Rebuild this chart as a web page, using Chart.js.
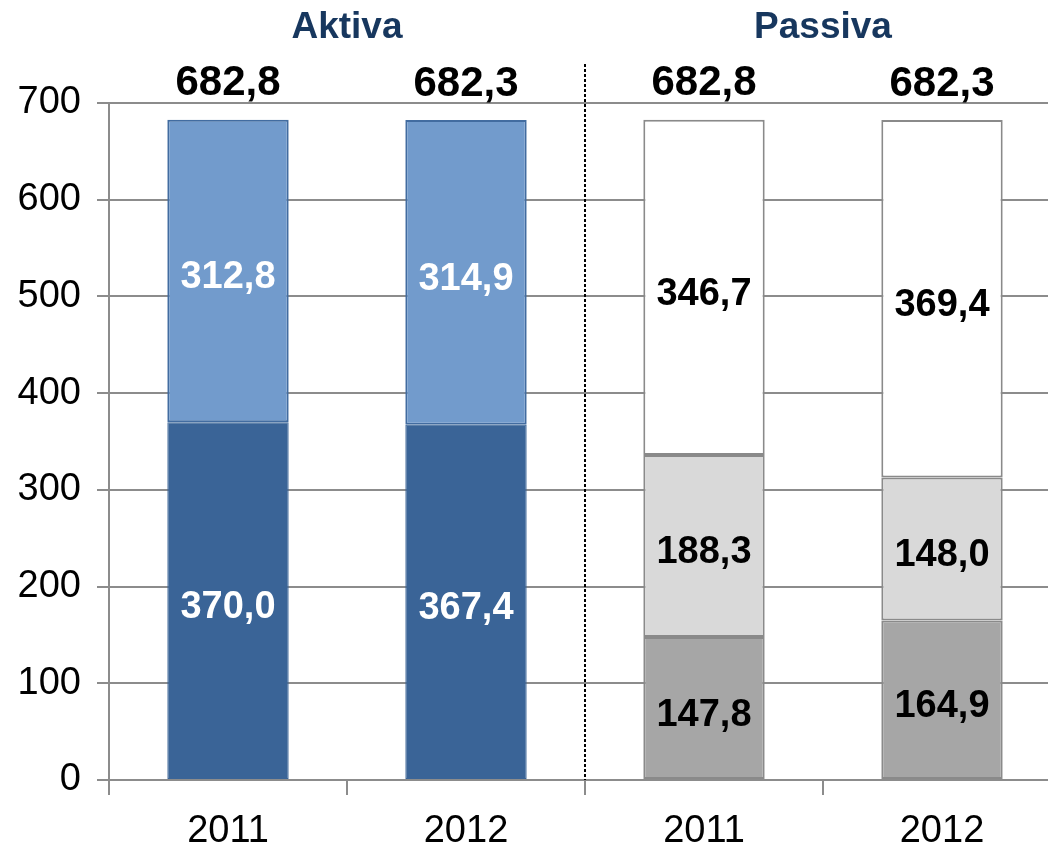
<!DOCTYPE html>
<html>
<head>
<meta charset="utf-8">
<script src="https://cdn.jsdelivr.net/npm/chart.js@4.4.1/dist/chart.umd.min.js"></script>
<style>
html,body{margin:0;padding:0;background:#fff;overflow:hidden;}
#wrap{width:1048px;height:846px;overflow:hidden;position:relative;}
#c{position:absolute;left:0;top:0;}
</style>
</head>
<body>
<div id="wrap"><canvas id="c" width="1070" height="846"></canvas></div>
<script>
const categories = ['2011', '2012', '2011', '2012'];
const groupTitles = ['Aktiva', 'Passiva'];
const aktivaBottom = [370.0, 367.4, null, null];
const aktivaTop = [312.8, 314.9, null, null];
const passivaBottom = [null, null, 147.8, 164.9];
const passivaMiddle = [null, null, 188.3, 148.0];
const passivaTop = [null, null, 346.7, 369.4];
const yTicks = [0, 100, 200, 300, 400, 500, 600, 700];

const FONT = '"Liberation Sans", Arial, sans-serif';
const fmt = v => v.toFixed(1).replace('.', ',');

const datasets = [
  {data: aktivaBottom, backgroundColor: '#3A6497', borderColor: '#3A6497', borderWidth: 1, labelColor: '#FFFFFF'},
  {data: aktivaTop, backgroundColor: '#729BCC', borderColor: '#426CA0', borderWidth: 2, labelColor: '#FFFFFF'},
  {data: passivaBottom, backgroundColor: '#A6A6A6', borderColor: '#8A8A8A', borderWidth: 2, labelColor: '#000000'},
  {data: passivaMiddle, backgroundColor: '#D9D9D9', borderColor: '#8A8A8A', borderWidth: 2, labelColor: '#000000'},
  {data: passivaTop, backgroundColor: '#FFFFFF', borderColor: '#8A8A8A', borderWidth: 2, labelColor: '#000000'}
].map(d => Object.assign(d, {stack: 's', borderSkipped: false, barPercentage: 0.51, categoryPercentage: 1.0}));

const overlay = {
  id: 'overlay',
  afterDatasetsDraw(chart) {
    const ctx = chart.ctx;
    const x = chart.scales.x, y = chart.scales.y;
    ctx.save();
    // segment labels
    ctx.textAlign = 'center';
    ctx.textBaseline = 'middle';
    ctx.font = 'bold 38px ' + FONT;
    chart.data.datasets.forEach((ds, di) => {
      const meta = chart.getDatasetMeta(di);
      ds.data.forEach((v, i) => {
        if (v == null) return;
        const el = meta.data[i];
        const cy = (el.y + el.base) / 2 + 7;
        ctx.fillStyle = ds.labelColor;
        ctx.fillText(fmt(v), el.x, cy);
      });
    });
    // totals
    ctx.font = 'bold 42px ' + FONT;
    ctx.fillStyle = '#000';
    categories.forEach((c, i) => {
      let t = 0;
      chart.data.datasets.forEach(ds => { if (ds.data[i] != null) t += ds.data[i]; });
      ctx.fillText(fmt(t), x.getPixelForValue(i), y.getPixelForValue(t) - 36);
    });
    // group titles
    ctx.font = 'bold 37px ' + FONT;
    ctx.fillStyle = '#17375E';
    groupTitles.forEach((g, gi) => {
      const cx = (x.getPixelForValue(gi * 2) + x.getPixelForValue(gi * 2 + 1)) / 2;
      ctx.fillText(g, cx, 28);
    });
    // dotted separator
    const sx = Math.round((x.getPixelForValue(1) + x.getPixelForValue(2)) / 2);
    ctx.strokeStyle = '#000';
    ctx.lineWidth = 2;
    ctx.setLineDash([3, 2]);
    ctx.beginPath();
    ctx.moveTo(sx, 64);
    ctx.lineTo(sx, y.getPixelForValue(0));
    ctx.stroke();
    ctx.restore();
  }
};

new Chart(document.getElementById('c'), {
  type: 'bar',
  data: {labels: categories, datasets: datasets},
  plugins: [overlay],
  options: {
    responsive: false,
    animation: false,
    devicePixelRatio: 1,
    layout: {padding: {left: 0, right: 9, top: 103, bottom: 0}},
    plugins: {legend: {display: false}, tooltip: {enabled: false}, title: {display: false}},
    scales: {
      x: {
        stacked: true,
        afterFit(s) { s.height = 66; },
        grid: {drawOnChartArea: false, color: '#8C8C8C', lineWidth: 2, tickLength: 15, offset: true},
        border: {display: true, color: '#8C8C8C', width: 2},
        ticks: {color: '#000', font: {family: FONT, size: 38}, padding: 14}
      },
      y: {
        stacked: true,
        min: 0, max: 700,
        afterFit(s) { s.width = 109; },
        afterBuildTicks(s) { s.ticks = yTicks.map(v => ({value: v})); },
        grid: {color: '#8C8C8C', lineWidth: 2, tickLength: 12},
        border: {display: true, color: '#8C8C8C', width: 2},
        ticks: {color: '#000', font: {family: FONT, size: 38}, padding: 16}
      }
    }
  }
});
</script>
</body>
</html>
